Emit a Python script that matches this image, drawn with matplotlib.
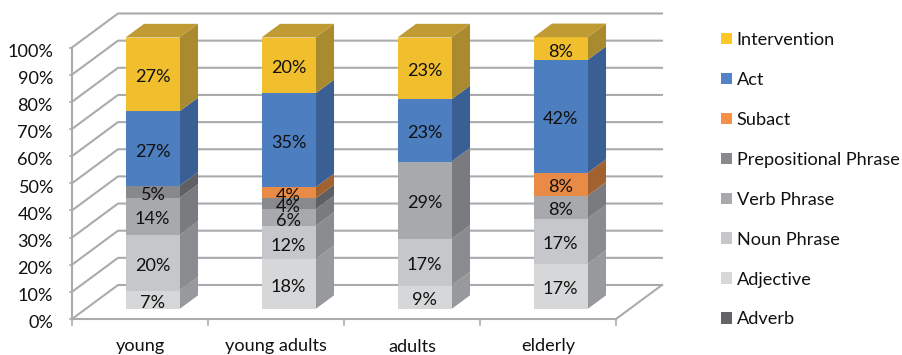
import matplotlib
matplotlib.use('Agg')
import matplotlib.pyplot as plt
from matplotlib.patches import Polygon, Patch

plt.rcParams['font.family'] = ['Lato', 'DejaVu Sans']

categories = ['young', 'young adults', 'adults', 'elderly']
y_ticks = [0, 10, 20, 30, 40, 50, 60, 70, 80, 90, 100]

# bottom to top, heights
series_names = ['Adverb', 'Adjective', 'Noun Phrase', 'Verb Phrase',
                'Prepositional Phrase', 'Subact', 'Act', 'Intervention']
adverb = [0, 0, 0, 0]
adjective = [6.8, 18.3, 8.6, 16.6]
noun_phrase = [20.5, 12.3, 17.2, 16.7]
verb_phrase = [13.6, 6.1, 28.5, 8.4]
prep_phrase = [4.5, 4.05, 0, 0]
subact = [0, 4.05, 0, 8.4]
act = [27.4, 34.6, 22.9, 41.6]
intervention = [27.2, 20.6, 22.8, 8.4]
heights = [adverb, adjective, noun_phrase, verb_phrase, prep_phrase, subact, act, intervention]

# printed labels
labels = [
    ['', '', '', ''],
    ['7%', '18%', '9%', '17%'],
    ['20%', '12%', '17%', '17%'],
    ['14%', '6%', '29%', '8%'],
    ['5%', '4%', '', ''],
    ['', '4%', '', '8%'],
    ['27%', '35%', '23%', '42%'],
    ['27%', '20%', '23%', '8%'],
]

front_colors = ['#636467', '#d5d7d9', '#c5c7ca', '#a7a9ad', '#88898d', '#e98b47', '#4d7ebf', '#f1bf2e']
side_colors = ['#47484a', '#97999c', '#8a8c90', '#797b7f', '#5f6063', '#a1622f', '#3a5f94', '#a98a2f']
legend_colors = ['#636467', '#d5d7d9', '#c5c7ca', '#a7a9ad', '#88898d', '#f79046', '#5282c8', '#fdc726']
top_color = '#c09a33'
grid_color = '#a9abad'
text_color = '#111111'
font_size = 13.1

W, H = 903, 355
x0_px, y0_px = 72, 319     # where 0% / first category sits
cat_px, pct_px = 136, 2.715
depth_x = 46 / cat_px      # full floor depth in data units
depth_y = 34 / pct_px
bar_w = 54 / cat_px
bar_d0, bar_d1 = 0.294, 0.696


def proj(x, y, d):
    return x + d * depth_x, y + d * depth_y


fig = plt.figure(figsize=(W / 100, H / 100), dpi=100)
ax = fig.add_axes([0, 0, 1, 1])
ax.set_xlim(-x0_px / cat_px, (W - x0_px) / cat_px)
ax.set_ylim(-(H - y0_px) / pct_px, y0_px / pct_px)
ax.axis('off')

n = len(categories)

# walls and floor
for v in y_ticks:
    bx, by = proj(0, v, 1)
    ax.plot([0, bx, n + depth_x], [v, by, by], color=grid_color, lw=1.5, zorder=1)
    ax.plot([-2 / cat_px, 0], [v, v], color=grid_color, lw=1.2, zorder=1)
    ax.text(-19 / cat_px, v - 1.6, '%d%%' % v, ha='right', va='center', fontsize=font_size, color=text_color)
ax.plot([0, 0], [0, 100], color=grid_color, lw=1.5, zorder=1)
ax.plot([0, n], [0, 0], color=grid_color, lw=1.5, zorder=1)
ax.plot([n, n + depth_x], [0, depth_y], color=grid_color, lw=1.5, zorder=1)
for i in range(n + 1):
    ax.plot([i, i], [0, -6 / pct_px], color=grid_color, lw=1.2, zorder=1)

# bars
for i, cat in enumerate(categories):
    left = i + 0.5 - bar_w / 2 - 1 / cat_px
    right = left + bar_w
    base = 0
    for s in range(len(series_names)):
        h = heights[s][i]
        if h == 0:
            continue
        a = proj(left, base, bar_d0)
        b = proj(right, base, bar_d0)
        c = proj(right, base + h, bar_d0)
        e = proj(left, base + h, bar_d0)
        f = proj(right, base, bar_d1)
        g = proj(right, base + h, bar_d1)
        ax.add_patch(Polygon([b, f, g, c], closed=True, fc=side_colors[s], ec='none', zorder=2))
        ax.add_patch(Polygon([a, b, c, e], closed=True, fc=front_colors[s], ec='none', zorder=3))
        cx = (a[0] + b[0]) / 2
        cy = (a[1] + e[1]) / 2 - 1.1
        ax.text(cx, cy, labels[s][i], ha='center', va='center', fontsize=font_size, color=text_color, zorder=5)
        base += h
    tl = proj(left, base, bar_d0)
    tr = proj(right, base, bar_d0)
    br = proj(right, base, bar_d1)
    bl = proj(left, base, bar_d1)
    ax.add_patch(Polygon([tl, tr, br, bl], closed=True, fc=top_color, ec='none', zorder=3))
    ax.text(i + 0.5, -27.5 / pct_px, cat, ha='center', va='center', fontsize=font_size, color=text_color)

# legend, Intervention first
handles = [Patch(fc=legend_colors[s], ec='none', label=series_names[s])
           for s in range(len(series_names) - 1, -1, -1)]
ax.legend(handles=handles, loc='upper left', bbox_to_anchor=(721 / W, 1 - 32 / H),
          frameon=False, fontsize=font_size, borderpad=0, borderaxespad=0,
          handlelength=0.6, handleheight=0.6, handletextpad=0.27, labelspacing=1.315,
          labelcolor=text_color)

fig.savefig('out.png', dpi=100)
